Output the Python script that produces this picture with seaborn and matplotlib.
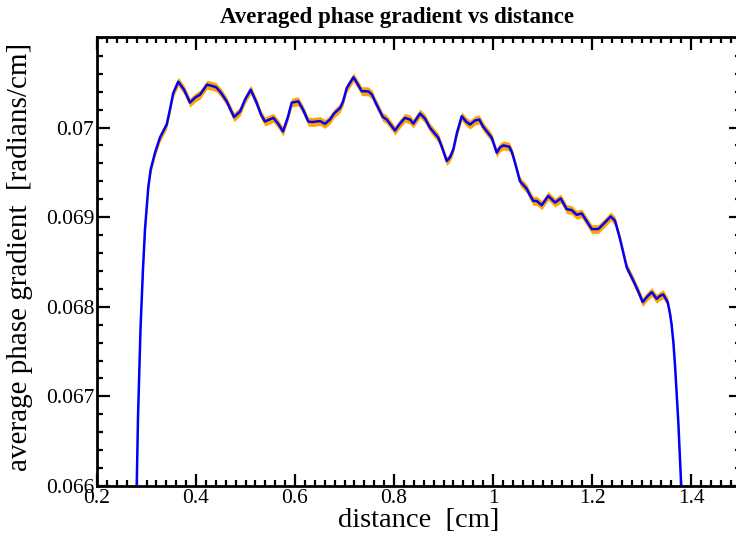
import numpy as np
import pandas as pd
import matplotlib
matplotlib.use("Agg")
import matplotlib.pyplot as plt
import seaborn as sns
from matplotlib.ticker import MultipleLocator, FixedLocator, FuncFormatter

# -----------------------------------------------------
# DATA
# -----------------------------------------------------

distance_cm = [
    0.2802, 0.2828, 0.2879, 0.2929, 0.2970, 0.3036, 0.3085, 0.3172, 0.3273, 0.3408,
    0.3465, 0.3541, 0.3642, 0.3758, 0.3879, 0.3980, 0.4081, 0.4222, 0.4303, 0.4404,
    0.4505, 0.4620, 0.4768, 0.4889, 0.4990, 0.5105, 0.5226, 0.5313, 0.5394, 0.5562,
    0.5657, 0.5758, 0.5859, 0.5933, 0.6067, 0.6162, 0.6269, 0.6343, 0.6438, 0.6505,
    0.6606, 0.6707, 0.6788, 0.6909, 0.6970, 0.7044, 0.7182, 0.7273, 0.7347, 0.7481,
    0.7556, 0.7616, 0.7772, 0.7853, 0.8020, 0.8121, 0.8222, 0.8323, 0.8390, 0.8525,
    0.8626, 0.8727, 0.8895, 0.8970, 0.9065, 0.9131, 0.9198, 0.9273, 0.9368, 0.9455,
    0.9535, 0.9636, 0.9723, 0.9798, 0.9873, 0.9974, 1.0075, 1.0141, 1.0208, 1.0329,
    1.0384, 1.0444, 1.0545, 1.0681, 1.0747, 1.0814, 1.0883, 1.0984, 1.1117, 1.1253,
    1.1368, 1.1489, 1.1590, 1.1691, 1.1792, 1.1879, 1.1994, 1.2127, 1.2263, 1.2378,
    1.2465, 1.2566, 1.2701, 1.2834, 1.2929, 1.3024, 1.3111, 1.3206, 1.3307, 1.3374,
    1.3440, 1.3529, 1.3576, 1.3610, 1.3646, 1.3677, 1.3743, 1.3804,
]

phase_gradient = [
    0.065978, 0.066756, 0.067756, 0.068422, 0.068867, 0.069333, 0.069533, 0.069719, 0.069889, 0.070033,
    0.070178, 0.070386, 0.070511, 0.070422, 0.070278, 0.070333, 0.070367, 0.070478, 0.070467, 0.070450,
    0.070389, 0.070292, 0.070117, 0.070178, 0.070311, 0.070422, 0.070274, 0.070144, 0.070067, 0.070108,
    0.070044, 0.069956, 0.070122, 0.070278, 0.070292, 0.070200, 0.070067, 0.070061, 0.070067, 0.070072,
    0.070041, 0.070089, 0.070156, 0.070217, 0.070289, 0.070439, 0.070561, 0.070478, 0.070406, 0.070403,
    0.070367, 0.070292, 0.070119, 0.070089, 0.069967, 0.070044, 0.070108, 0.070089, 0.070044, 0.070156,
    0.070100, 0.069997, 0.069886, 0.069778, 0.069626, 0.069667, 0.069756, 0.069944, 0.070126, 0.070067,
    0.070033, 0.070078, 0.070089, 0.070011, 0.069959, 0.069886, 0.069719, 0.069778, 0.069800, 0.069786,
    0.069722, 0.069608, 0.069400, 0.069317, 0.069244, 0.069181, 0.069181, 0.069133, 0.069237, 0.069163,
    0.069208, 0.069089, 0.069078, 0.069026, 0.069041, 0.068967, 0.068867, 0.068867, 0.068941, 0.069008,
    0.068959, 0.068756, 0.068441, 0.068292, 0.068178, 0.068052, 0.068111, 0.068163, 0.068089, 0.068122,
    0.068137, 0.068052, 0.067922, 0.067792, 0.067589, 0.067348, 0.066719, 0.065978,
]

band_halfwidth = 0.00005

y_ticks = [0.066, 0.067, 0.068, 0.069, 0.070]

df = pd.DataFrame({"distance": distance_cm, "gradient": phase_gradient})

# -----------------------------------------------------
# PLOT
# -----------------------------------------------------

sns.set_style("ticks")
plt.rcParams["font.family"] = ["Liberation Serif", "DejaVu Serif"]
plt.rcParams["text.color"] = "black"
plt.rcParams["axes.labelcolor"] = "black"
plt.rcParams["axes.edgecolor"] = "black"
plt.rcParams["xtick.color"] = "black"
plt.rcParams["ytick.color"] = "black"

fig = plt.figure(figsize=(7.36, 5.42), dpi=100)
ax = fig.add_axes([97 / 736, 1 - 486 / 542, 643.5 / 736, 449 / 542])

# orange error band under the blue curve
ax.fill_between(
    df["distance"],
    df["gradient"] - band_halfwidth,
    df["gradient"] + band_halfwidth,
    color="orange",
    linewidth=0,
)
sns.lineplot(data=df, x="distance", y="gradient", color="blue", linewidth=1.8,
             sort=False, ax=ax)

ax.set_xlim(0.2, 1.5)
ax.set_ylim(0.066, 0.07101)

ax.xaxis.set_major_locator(MultipleLocator(0.2))
ax.xaxis.set_minor_locator(MultipleLocator(0.02))
ax.yaxis.set_major_locator(FixedLocator(y_ticks))
ax.yaxis.set_minor_locator(MultipleLocator(0.0002))
ax.xaxis.set_major_formatter(FuncFormatter(lambda v, p: "%g" % round(v, 3)))
ax.yaxis.set_major_formatter(FuncFormatter(lambda v, p: "%g" % round(v, 4)))

ax.tick_params(which="both", direction="in", top=True, right=True,
               width=1.6, labelsize=15.5, pad=2)
ax.tick_params(which="major", length=9)
ax.tick_params(which="minor", length=4.5)
for s in ax.spines.values():
    s.set_linewidth(2)

ax.set_title("Averaged phase gradient vs distance", fontsize=16.5,
             fontweight="bold", x=0.466, pad=10)
ax.set_xlabel("distance  [cm]", fontsize=20.5, labelpad=0)
ax.set_ylabel("average phase gradient  [radians/cm]", fontsize=21, labelpad=1)
ax.yaxis.set_label_coords(-0.1, 0.51)

fig.savefig("out.png", dpi=100)
